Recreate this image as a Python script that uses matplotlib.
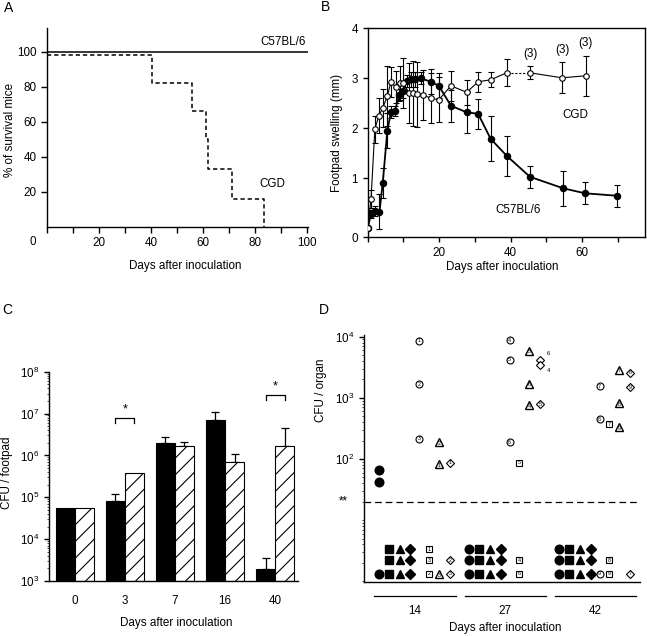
import numpy as np
import matplotlib
matplotlib.use("Agg")
import matplotlib.pyplot as plt
from matplotlib.transforms import blended_transform_factory as blend
from matplotlib.ticker import FixedLocator, NullFormatter

plt.rcParams['font.family'] = ['Liberation Sans', 'DejaVu Sans']
plt.rcParams['mathtext.fontset'] = 'custom'
plt.rcParams['mathtext.rm'] = 'Liberation Sans'
plt.rcParams['mathtext.default'] = 'regular'
plt.rcParams['hatch.linewidth'] = 0.8
FS = 8.4
LFS = 10

# ---------------- Panel A data ----------------
a_days_wt = [0, 100.5]
a_surv_wt = [100, 100]
a_days_cgd = [0, 40.6, 55.7, 61.3, 62.1, 71.2, 83.4]
a_surv_cgd = [98, 82, 66, 50, 33, 16, 0]

# ---------------- Panel B data ----------------
b_wt_day = [0, 0.93, 2.0, 3.3, 4.2, 5.5, 6.5, 7.6, 8.9, 9.8, 10.9, 12.0, 13.2, 14.9,
            17.7, 19.9, 23.3, 27.7, 30.9, 34.4, 38.9, 45.4, 54.7, 60.8, 69.9]
b_wt_mm = [0, 0.29, 0.35, 0.33, 0.9, 1.95, 2.32, 2.35, 2.67, 2.75, 2.95, 2.98, 2.98, 3.0,
           2.93, 2.85, 2.45, 2.32, 2.29, 1.79, 1.45, 1.03, 0.8, 0.7, 0.65]
b_wt_err = [0, 0.08, 0.1, 0.35, 0.3, 0.35, 0.12, 0.1, 0.12, 0.15, 0.12, 0.15, 0.15, 0.12,
            0.25, 0.25, 0.32, 0.42, 0.3, 0.45, 0.4, 0.22, 0.35, 0.22, 0.22]
b_cgd_day = [0, 0.93, 2.0, 3.1, 4.2, 5.5, 6.5, 7.8, 9.0, 10.0, 11.6, 12.8, 13.9, 15.4,
             17.7, 19.9, 23.3, 27.7, 30.9, 34.4, 38.9, 45.4, 54.4, 61.0]
b_cgd_mm = [0, 0.58, 1.98, 2.25, 2.4, 2.65, 2.92, 2.83, 2.91, 2.91, 2.7, 2.7, 2.68, 2.67,
            2.6, 2.57, 2.85, 2.72, 2.93, 2.97, 3.11, 3.11, 3.01, 3.05]
b_cgd_err = [0, 0.18, 0.27, 0.35, 0.38, 0.6, 0.3, 0.32, 0.34, 0.5, 0.6, 0.65, 0.65, 0.5,
             0.5, 0.45, 0.3, 0.25, 0.2, 0.15, 0.27, 0.13, 0.31, 0.4]
b_n_label = ['(3)', '(3)', '(3)']          # labels on last three CGD points
b_dashed_from = 20                          # CGD segment drawn dashed (index 20 -> 21)

# ---------------- Panel C data ----------------
c_days = ['0', '3', '7', '16', '40']
c_wt = [5.6e4, 8.1e4, 2.0e6, 7.0e6, 1.9e3]
c_wt_err = [0, 3.7e4, 0.7e6, 4.0e6, 1.7e3]
c_cgd = [5.6e4, 3.9e5, 1.7e6, 6.8e5, 1.7e6]
c_cgd_err = [0, 0, 0.4e6, 4.2e5, 2.9e6]
c_sig_idx = [1, 4]
c_sig_top = [7.9e6, 2.8e7]
c_sig_leg = [6.0e6, 2.1e7]

# ---------------- Panel D data ----------------
d_groups = ['14', '27', '42']
d_limit = 20
# numbered (individual) mice above detection limit
d_det_g = [0, 0, 0, 0, 0, 0, 1, 1, 1, 1, 1, 1, 1, 1, 1, 1, 2, 2, 2, 2, 2, 2, 2, 2]
d_det_kind = ['c', 'c', 'c', 't', 't', 'd', 'c', 'c', 'c', 's', 't', 't', 't', 'd', 'd', 'd',
              'c', 'c', 's', 't', 't', 't', 'd', 'd']
d_det_val = [8600, 1660, 214, 186, 83, 86, 8800, 4230, 188, 86, 5900, 1700, 750, 4230, 3500, 780,
             1550, 450, 367, 2900, 820, 336, 2570, 1500]
d_det_lab = ['1', '2', '3', '2', '1', '1', '4', '5', '6', '5', '5', '6', '4', '', '', '5',
             '7', '8', '7', '7', '8', '9', '8', '9']
d_det_ext = ['', '', '', '', '', '', '', '', '', '', '', '', '', '6', '4', '',
             '', '', '', '', '', '', '', '']
# pooled (filled) mice above detection limit
d_fill_g = [0, 0]
d_fill_kind = ['fc', 'fc']
d_fill_val = [65, 42]
# below detection limit: rows
d_row_val = [3.35, 2.2, 1.32]
d_bd_g = [0, 0, 0, 0, 0, 0, 0, 0, 0, 0,
          1, 1, 1, 1, 1, 1, 1, 1, 1, 1, 1, 1,
          2, 2, 2, 2, 2, 2, 2, 2, 2, 2, 2, 2]
d_bd_kind = ['fc', 'fs', 'fs', 'fs', 'ft', 'ft', 'ft', 'fd', 'fd', 'fd',
             'fc', 'fc', 'fc', 'fs', 'fs', 'fs', 'ft', 'ft', 'ft', 'fd', 'fd', 'fd',
             'fc', 'fc', 'fc', 'fs', 'fs', 'fs', 'ft', 'ft', 'ft', 'fd', 'fd', 'fd']
d_bd_row = [2, 0, 1, 2, 0, 1, 2, 0, 1, 2,
            0, 1, 2, 0, 1, 2, 0, 1, 2, 0, 1, 2,
            0, 1, 2, 0, 1, 2, 0, 1, 2, 0, 1, 2]
d_bdn_g = [0, 0, 0, 0, 0, 0, 1, 1, 2, 2, 2, 2]
d_bdn_kind = ['s', 's', 's', 't', 'd', 'd', 's', 's', 's', 'c', 's', 'd']
d_bdn_row = [0, 1, 2, 2, 1, 2, 1, 2, 1, 2, 2, 2]
d_bdn_lab = ['1', '3', '2', '3', '2', '3', '4', '6', '8', '9', '9', '7']

col_off = {'fc': -0.405, 'fs': -0.294, 'ft': -0.167, 'fd': -0.05,
           'c': 0.05, 's': 0.159, 't': 0.272, 'd': 0.389}

fig = plt.figure(figsize=(6.47, 6.36), dpi=100)

# ======================= A =======================
axA = fig.add_axes([0.0726, 0.6431, 0.4034, 0.3129])
axA.plot(a_days_wt, a_surv_wt, color='black', lw=1.1)
axA.step(a_days_cgd, a_surv_cgd, where='post', color='black', lw=1.1, ls=(0, (2.8, 1.9)))
axA.set_xlim(0, 100.5)
axA.set_ylim(0, 113.7)
axA.spines[['top', 'right']].set_visible(False)
for s in ['left', 'bottom']:
    axA.spines[s].set_linewidth(1.0)
xt = list(range(0, 101, 10))
axA.set_xticks(xt)
axA.set_xticklabels(['' if (v == 0 or v % 20) else str(v) for v in xt])
axA.set_yticks([20, 40, 60, 80, 100])
axA.tick_params(labelsize=FS, length=4, width=1.0, direction='out')
axA.text(-5.3, -0.075, '0', transform=blend(axA.transData, axA.transAxes),
         ha='center', va='center', fontsize=FS)
axA.text(0.53, -0.196, 'Days after inoculation', transform=axA.transAxes,
         ha='center', va='center', fontsize=FS)
axA.text(-0.142, 0.487, '% of survival mice', transform=axA.transAxes, rotation=90,
         ha='center', va='center', fontsize=FS)
axA.text(90.8, 105.7, 'C57BL/6', ha='center', va='center', fontsize=FS)
axA.text(86.9, 24.6, 'CGD', ha='center', va='center', fontsize=FS)
fig.text(8.3 / 647, 1 - 8.3 / 636, 'A', ha='center', va='center', fontsize=LFS)

# ======================= B =======================
axB = fig.add_axes([0.5683, 0.6269, 0.4286, 0.3286])
ek = dict(fmt='none', ecolor='black', elinewidth=0.8, capsize=2.2, capthick=0.8)
axB.errorbar(b_wt_day, b_wt_mm, yerr=b_wt_err, zorder=2, **ek)
axB.errorbar(b_cgd_day, b_cgd_mm, yerr=b_cgd_err, zorder=2, **ek)
axB.plot(b_wt_day, b_wt_mm, '-o', color='black', lw=1.3, ms=4.4, mfc='black', mec='black', zorder=4)
k = b_dashed_from
axB.plot(b_cgd_day[:k + 1], b_cgd_mm[:k + 1], '-', color='black', lw=0.8, zorder=3)
axB.plot(b_cgd_day[k:k + 2], b_cgd_mm[k:k + 2], color='black', lw=0.8, ls=(0, (2, 1.5)), zorder=3)
axB.plot(b_cgd_day[k + 1:], b_cgd_mm[k + 1:], '-', color='black', lw=0.8, zorder=3)
axB.plot(b_cgd_day, b_cgd_mm, 'o', ls='none', ms=4.0, mfc='white', mec='black', mew=0.8, zorder=5)
for d, m, e, lab in zip(b_cgd_day[-3:], b_cgd_mm[-3:], b_cgd_err[-3:], b_n_label):
    axB.text(d, m + e + 0.25, lab, ha='center', va='center', fontsize=FS)
ybot = -0.18
axB.set_xlim(0, 77.6)
axB.set_ylim(ybot, 4)
axB.set_xticks([0, 10, 20, 30, 40, 50, 60, 70])
axB.set_xticklabels(['', '', '20', '', '40', '', '60', ''])
axB.set_yticks([ybot, 1, 2, 3, 4])
axB.set_yticklabels(['0', '1', '2', '3', '4'])
axB.tick_params(labelsize=FS, length=3.5, width=1.0, direction='out')
for s in axB.spines.values():
    s.set_linewidth(1.0)
axB.text(0.487, -0.142, 'Days after inoculation', transform=axB.transAxes,
         ha='center', va='center', fontsize=FS)
axB.text(-0.112, 0.499, 'Footpad swelling (mm)', transform=axB.transAxes, rotation=90,
         ha='center', va='center', fontsize=FS)
axB.text(58.2, 2.27, 'CGD', ha='center', va='center', fontsize=FS)
axB.text(42.1, 0.37, 'C57BL/6', ha='center', va='center', fontsize=FS)
fig.text(325.7 / 647, 1 - 7.3 / 636, 'B', ha='center', va='center', fontsize=LFS)

# ======================= C =======================
axC = fig.add_axes([0.0757, 0.0865, 0.3849, 0.3291])
axC.set_yscale('log')
ylo, yhi = 1e3, 1e8
x = np.arange(len(c_days))
w = 0.38
axC.bar(x - w / 2, np.array(c_wt) - ylo, w, bottom=ylo, color='black', edgecolor='black', lw=0.8, zorder=2)
axC.bar(x + w / 2, np.array(c_cgd) - ylo, w, bottom=ylo, color='white', edgecolor='black', lw=0.8,
        hatch='//', zorder=2)
we = np.array(c_wt_err) > 0
ce = np.array(c_cgd_err) > 0
ekc = dict(fmt='none', ecolor='black', elinewidth=0.9, capsize=3, capthick=0.9, zorder=1)
axC.errorbar((x - w / 2)[we], np.array(c_wt)[we],
             yerr=[np.zeros(we.sum()), np.array(c_wt_err)[we]], **ekc)
axC.errorbar((x + w / 2)[ce], np.array(c_cgd)[ce],
             yerr=[np.zeros(ce.sum()), np.array(c_cgd_err)[ce]], **ekc)
for i, top, leg in zip(c_sig_idx, c_sig_top, c_sig_leg):
    axC.plot([i - w / 2, i - w / 2, i + w / 2, i + w / 2], [leg, top, top, leg], color='black', lw=0.9)
    axC.text(i, top * 1.55, '*', ha='center', va='center', fontsize=FS + 1)
axC.set_ylim(ylo, yhi)
axC.set_xlim(-0.52, 4.46)
axC.spines[['top', 'right']].set_visible(False)
axC.spines['left'].set_linewidth(1.0)
axC.spines['bottom'].set_linewidth(1.0)
axC.set_xticks(x)
axC.set_xticklabels(c_days)
axC.tick_params(axis='x', length=0, pad=10, labelsize=FS)
axC.set_yticks([1e3, 1e4, 1e5, 1e6, 1e7, 1e8])
axC.set_yticklabels(['$10^{%d}$' % e for e in range(3, 9)])
axC.yaxis.set_minor_locator(FixedLocator([k * 10 ** e for e in range(3, 8) for k in range(2, 10)]))
axC.yaxis.set_minor_formatter(NullFormatter())
axC.tick_params(axis='y', which='major', length=3.5, width=1.0, labelsize=FS)
axC.tick_params(axis='y', which='minor', length=1.5, width=0.5)
axC.text(0.513, -0.202, 'Days after inoculation', transform=axC.transAxes,
         ha='center', va='center', fontsize=FS)
axC.text(-0.167, 0.516, 'CFU / footpad', transform=axC.transAxes, rotation=90,
         ha='center', va='center', fontsize=FS)
fig.text(7.5 / 647, 1 - 310 / 636, 'C', ha='center', va='center', fontsize=LFS)

# ======================= D =======================
axD = fig.add_axes([0.5631, 0.0854, 0.4261, 0.3879])
axD.set_yscale('log')
axD.set_ylim(10 ** -0.007, 10 ** 4.028)
axD.set_xlim(-0.563, 2.5)
axD.spines[['top', 'right']].set_visible(False)
axD.spines['left'].set_linewidth(1.0)
axD.spines['bottom'].set_linewidth(1.0)

fill_style = {'fc': ('o', 6.2), 'fs': ('s', 6.0), 'ft': ('^', 6.4), 'fd': ('D', 5.0)}
open_style = {'c': ('o', 5.0), 's': ('s', 4.9), 't': ('^', 5.8), 'd': ('D', 4.3)}


def filled(g, kind, val):
    m, ms = fill_style[kind]
    axD.plot([g + col_off[kind]], [val], marker=m, ms=ms, mfc='black', mec='black',
             ls='none', zorder=3, clip_on=False)


def numbered(g, kind, val, lab, ext=''):
    m, ms = open_style[kind]
    xx = g + col_off[kind]
    axD.plot([xx], [val], marker=m, ms=ms, mfc='white', mec='black',
             mew=1.0 if kind == 't' else 0.8, ls='none', zorder=3, clip_on=False)
    dy = -0.9 if kind == 't' else 0
    if lab:
        axD.annotate(lab, (xx, val), xytext=(0, dy), textcoords='offset points',
                     ha='center', va='center', fontsize=3.9, zorder=4)
    if ext:
        oy = 4 if ext == '6' else -4
        axD.annotate(ext, (xx, val), xytext=(6, oy), textcoords='offset points',
                     ha='center', va='center', fontsize=4.2, zorder=4)


for g, kd, v in zip(d_fill_g, d_fill_kind, d_fill_val):
    filled(g, kd, v)
for g, kd, r in zip(d_bd_g, d_bd_kind, d_bd_row):
    filled(g, kd, d_row_val[r])
for g, kd, v, lab, ext in zip(d_det_g, d_det_kind, d_det_val, d_det_lab, d_det_ext):
    numbered(g, kd, v, lab, ext)
for g, kd, r, lab in zip(d_bdn_g, d_bdn_kind, d_bdn_row, d_bdn_lab):
    numbered(g, kd, d_row_val[r], lab)

axD.axhline(d_limit, color='black', lw=0.9, ls=(0, (5.3, 3.2)), zorder=1)
axD.text(-0.077, d_limit, '**', transform=blend(axD.transAxes, axD.transData),
         ha='center', va='center', fontsize=FS)
axD.set_yticks([1e2, 1e3, 1e4])
axD.set_yticklabels(['$10^{%d}$' % e for e in (2, 3, 4)])
axD.yaxis.set_minor_locator(FixedLocator([k * 10 ** e for e in range(0, 4) for k in range(1, 10)
                                          if not (k == 1 and e >= 2)]))
axD.yaxis.set_minor_formatter(NullFormatter())
axD.tick_params(axis='y', which='major', length=3.5, width=1.0, labelsize=FS)
axD.tick_params(axis='y', which='minor', length=1.5, width=0.5)
gpos = np.arange(len(d_groups))
axD.set_xticks(gpos)
axD.set_xticklabels(d_groups)
axD.tick_params(axis='x', length=0, pad=17, labelsize=FS)
tr = blend(axD.transData, axD.transAxes)
for g in gpos:
    axD.plot([g - 0.45, g + 0.45], [-0.058, -0.058], color='black', lw=0.9,
             transform=tr, clip_on=False)
axD.text(0.51, -0.188, 'Days after inoculation', transform=axD.transAxes,
         ha='center', va='center', fontsize=FS)
axD.text(-0.157, 0.777, 'CFU / organ', transform=axD.transAxes, rotation=90,
         ha='center', va='center', fontsize=FS)
fig.text(324 / 647, 1 - 310 / 636, 'D', ha='center', va='center', fontsize=LFS)

fig.savefig('out.png', dpi=100)
